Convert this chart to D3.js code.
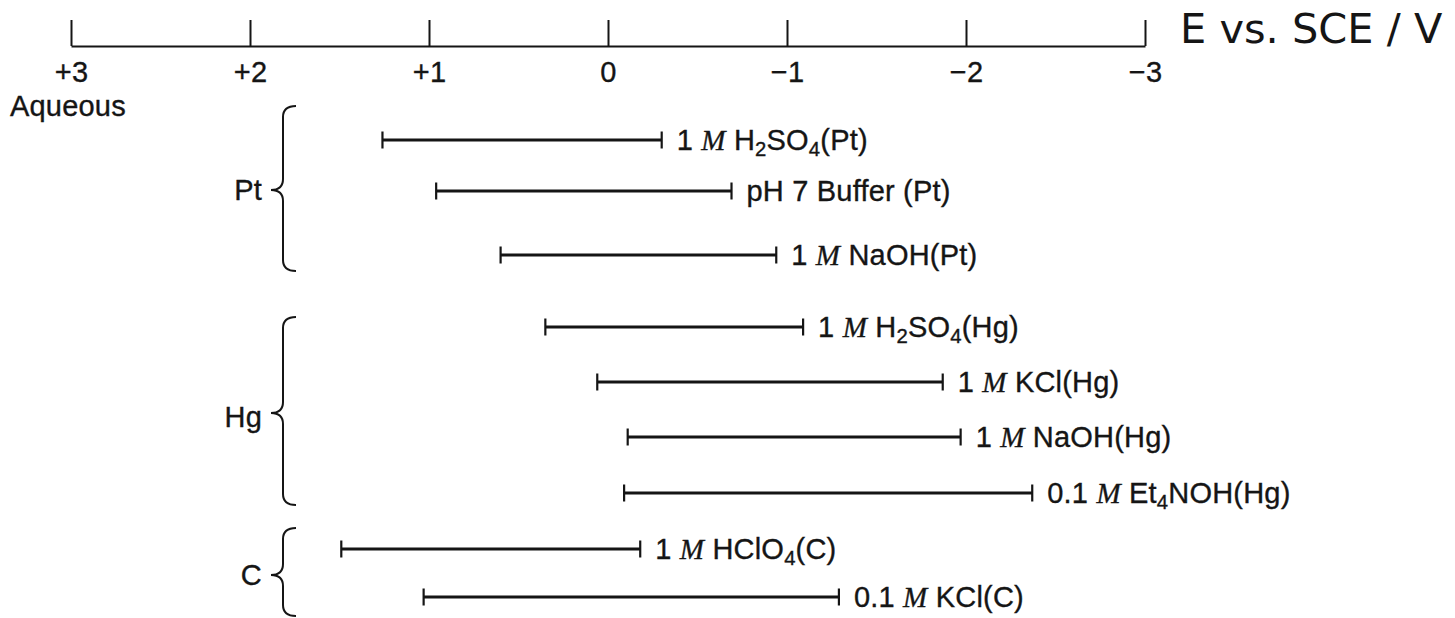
<!DOCTYPE html>
<html>
<head>
<meta charset="utf-8">
<script src="https://cdn.jsdelivr.net/npm/d3@7"></script>
<style>
  html, body { margin: 0; padding: 0; background: #fff; }
  svg { display: block; }
  text { white-space: pre; }
</style>
</head>
<body>
<svg id="chart" width="1455" height="618"></svg>
<script>
// ---------------- DATA ----------------
// Potential window limits (V vs. SCE), one entry per electrolyte/electrode
const categories = [
  "1 {M} H_2SO_4(Pt)",
  "pH 7 Buffer (Pt)",
  "1 {M} NaOH(Pt)",
  "1 {M} H_2SO_4(Hg)",
  "1 {M} KCl(Hg)",
  "1 {M} NaOH(Hg)",
  "0.1 {M} Et_4NOH(Hg)",
  "1 {M} HClO_4(C)",
  "0.1 {M} KCl(C)"
];
const anodicLimit   = [1.26, 0.96, 0.60, 0.35, 0.06, -0.11, -0.09, 1.49, 1.03];
const cathodicLimit = [-0.30, -0.69, -0.94, -1.09, -1.87, -1.97, -2.37, -0.18, -1.29];
const electrode     = ["Pt", "Pt", "Pt", "Hg", "Hg", "Hg", "Hg", "C", "C"];
const groups        = ["Pt", "Hg", "C"];
const tickValues    = [3, 2, 1, 0, -1, -2, -3];
const tickLabels    = ["+3", "+2", "+1", "0", "\u22121", "\u22122", "\u22123"];
const axisTitle     = "E vs. SCE / V";
const sectionTitle  = "Aqueous";

// ---------------- LAYOUT ----------------
const W = 1455, H = 618;
const axisY = 46;
const rowPositions = [140, 191, 255, 327, 382, 437, 493, 549, 597];
const braceLayout = {           // brace extents and label baselines
  Pt: { top: 106, point: 190, bottom: 271, labelY: 200 },
  Hg: { top: 317, point: 413, bottom: 505, labelY: 427 },
  C:  { top: 528, point: 575, bottom: 616, labelY: 585 }
};
const ink = "#151515";
const sansFont = "'Liberation Sans', Arial, Helvetica, sans-serif";
const labelSize = 29;

const svg = d3.select("#chart");

const x = d3.scaleLinear().domain([3, -3]).range([71, 1145]);
const y = d3.scaleOrdinal().domain(categories).range(rowPositions);

function inkText(sel) {
  return sel.attr("fill", ink)
    .attr("stroke", ink)
    .attr("stroke-width", 0.35)
    .style("font-family", sansFont)
    .style("font-size", labelSize + "px")
    .style("letter-spacing", "0.2px");
}

// ---------------- AXIS ----------------
const axis = d3.axisBottom(x)
  .tickValues(tickValues)
  .tickFormat((d, i) => tickLabels[i])
  .tickSizeInner(-26)
  .tickSizeOuter(0)
  .tickPadding(15);

const gAxis = svg.append("g")
  .attr("transform", `translate(0,${axisY})`)
  .call(axis);
gAxis.select(".domain").attr("stroke", ink).attr("stroke-width", 2.2);
gAxis.selectAll(".tick line").attr("stroke", ink).attr("stroke-width", 2);
inkText(gAxis.selectAll(".tick text"));

svg.append("text")
  .attr("x", 1180).attr("y", 43)
  .attr("fill", ink)
  .style("font-family", "'DejaVu Sans', Verdana, sans-serif")
  .style("font-size", "41.5px")
  .text(axisTitle);

inkText(svg.append("text")
  .attr("x", 10).attr("y", 116))
  .text(sectionTitle);

// ---------------- BARS ----------------
const rows = categories.map((c, i) => ({
  label: c, a: anodicLimit[i], c: cathodicLimit[i], el: electrode[i]
}));

const capH = 8.5;
const gRows = svg.append("g").selectAll("g").data(rows).join("g");

gRows.append("line")
  .attr("x1", d => x(d.a)).attr("x2", d => x(d.c))
  .attr("y1", d => y(d.label)).attr("y2", d => y(d.label))
  .attr("stroke", ink).attr("stroke-width", 3);

gRows.append("line")
  .attr("x1", d => x(d.a)).attr("x2", d => x(d.a))
  .attr("y1", d => y(d.label) - capH).attr("y2", d => y(d.label) + capH)
  .attr("stroke", ink).attr("stroke-width", 2.2);

gRows.append("line")
  .attr("x1", d => x(d.c)).attr("x2", d => x(d.c))
  .attr("y1", d => y(d.label) - capH).attr("y2", d => y(d.label) + capH)
  .attr("stroke", ink).attr("stroke-width", 2.2);

// rich labels: {..} = italic serif, _n = subscript
function parseLabel(s) {
  const parts = s.split(/(\{[^}]+\}|_\d)/).filter(p => p.length);
  return parts.map(p => {
    if (p[0] === "{") return { t: p.slice(1, -1), kind: "it" };
    if (p[0] === "_") return { t: p.slice(1), kind: "sub" };
    return { t: p, kind: "n" };
  });
}

gRows.each(function(d) {
  const t = inkText(d3.select(this).append("text")
    .attr("x", x(d.c) + 15)
    .attr("y", y(d.label) + 10));
  let shifted = false;
  parseLabel(d.label).forEach(p => {
    const ts = t.append("tspan").text(p.t);
    if (p.kind === "it") {
      ts.style("font-family", "'Liberation Serif', 'Times New Roman', serif")
        .style("font-style", "italic");
    }
    if (p.kind === "sub") {
      ts.style("font-size", (labelSize * 0.7) + "px").attr("dy", 6);
      shifted = true;
    } else if (shifted) {
      ts.attr("dy", -6);
      shifted = false;
    }
  });
});

// ---------------- BRACES ----------------
const braceX = 283, braceTip = 296, bracePoint = 271;
groups.forEach(g => {
  const b = braceLayout[g];
  const mid = b.point;
  const r = 11;
  const p = d3.path();
  p.moveTo(braceTip, b.top);
  p.quadraticCurveTo(braceX, b.top, braceX, b.top + r);
  p.lineTo(braceX, mid - r);
  p.quadraticCurveTo(braceX, mid, bracePoint, mid);
  p.quadraticCurveTo(braceX, mid, braceX, mid + r);
  p.lineTo(braceX, b.bottom - r);
  p.quadraticCurveTo(braceX, b.bottom, braceTip, b.bottom);
  svg.append("path")
    .attr("d", p.toString())
    .attr("fill", "none")
    .attr("stroke", ink)
    .attr("stroke-width", 2);

  inkText(svg.append("text")
    .attr("x", 262).attr("y", b.labelY)
    .attr("text-anchor", "end"))
    .text(g);
});
</script>
</body>
</html>
